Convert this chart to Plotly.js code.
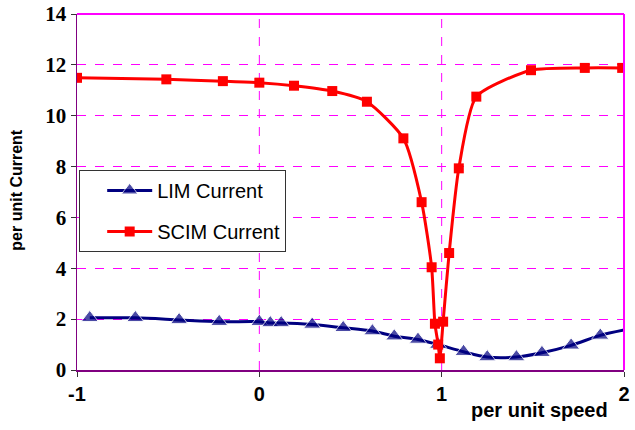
<!DOCTYPE html>
<html>
<head>
<meta charset="utf-8">
<script src="https://cdn.plot.ly/plotly-3.0.1.min.js"></script>
<style>html,body{margin:0;padding:0;background:#fff;}#chart{width:635px;height:430px;}</style>
</head>
<body>
<div id="chart"></div>
<script>
// LIM Current series
var limSpeed = [-0.93, -0.68, -0.44, -0.22, 0.0, 0.06, 0.12, 0.29, 0.46, 0.62, 0.74, 0.87, 0.98, 1.12, 1.25, 1.41, 1.55, 1.71, 1.87, 2.0];
var limCurrent = [2.05, 2.05, 1.97, 1.9, 1.9, 1.85, 1.85, 1.79, 1.66, 1.53, 1.33, 1.2, 1.0, 0.72, 0.51, 0.51, 0.68, 0.97, 1.36, 1.57];
var limMarkerSize = [15, 15, 15, 15, 15, 15, 15, 15, 15, 15, 15, 15, 15, 15, 15, 15, 15, 15, 15, 0];

// SCIM Current series
var scimSpeed = [-1.0, -0.51, -0.2, 0.0, 0.19, 0.4, 0.59, 0.79, 0.89, 0.945, 0.963, 0.981, 0.99, 1.008, 1.041, 1.094, 1.19, 1.49, 1.785, 1.99];
var scimCurrent = [11.49, 11.43, 11.36, 11.3, 11.18, 10.97, 10.55, 9.11, 6.6, 4.04, 1.82, 1.0, 0.46, 1.9, 4.6, 7.93, 10.75, 11.79, 11.88, 11.88];

var xTicks = [-1, 0, 1, 2];
var xTickText = ['-1', '0', '1', '2'];
var xGrid = [0, 1];
var yTicks = [0, 2, 4, 6, 8, 10, 12, 14];

var traces = [
  {
    x: limSpeed, y: limCurrent, name: 'LIM Current', type: 'scatter', mode: 'lines+markers',
    line: {color: '#000080', width: 3, shape: 'spline', smoothing: 0.8},
    marker: {symbol: 'triangle-up', size: limMarkerSize, color: '#000080'},
    legendgroup: 'a'
  },
  {
    x: scimSpeed, y: scimCurrent, name: 'SCIM Current', type: 'scatter', mode: 'lines+markers',
    line: {color: '#FF0000', width: 3, shape: 'spline', smoothing: 0.6},
    marker: {symbol: 'square', size: 10, color: '#FF0000'},
    legendgroup: 'b'
  }
];

var shapes = xGrid.map(function (v) {
  return {type: 'line', xref: 'x', yref: 'paper', x0: v, x1: v, y0: 0, y1: 1, layer: 'below',
          line: {color: '#FF00FF', width: 1, dash: 'dash'}};
});
shapes.push({type: 'line', xref: 'paper', yref: 'paper', x0: 0, x1: 1, y0: 1, y1: 1, line: {color: '#FF00FF', width: 2}});
shapes.push({type: 'line', xref: 'paper', yref: 'paper', x0: 1, x1: 1, y0: 0, y1: 1, line: {color: '#FF00FF', width: 2}});

var layout = {
  width: 635, height: 430,
  margin: {l: 77, r: 11, t: 14, b: 60},
  paper_bgcolor: '#fff', plot_bgcolor: '#fff',
  showlegend: true,
  legend: {
    x: 0.004, y: 0.562, xanchor: 'left', yanchor: 'top',
    bgcolor: '#fff', bordercolor: '#333', borderwidth: 1,
    font: {family: 'Liberation Sans, Arial, sans-serif', size: 20, color: '#000'},
    traceorder: 'grouped', tracegroupgap: 12, itemwidth: 45, indentation: 22,
    entrywidth: 205, entrywidthmode: 'pixels'
  },
  xaxis: {
    range: [-1, 2], tickvals: xTicks, ticktext: xTickText,
    showgrid: false,
    zeroline: false, showline: true, linecolor: '#800080', linewidth: 1.5,
    ticks: 'outside', ticklen: 5, tickcolor: '#333',
    tickfont: {family: 'Liberation Sans, Arial, sans-serif', size: 20, color: '#000', weight: 'bold'}
  },
  yaxis: {
    range: [0, 14], tickvals: yTicks,
    showgrid: true, gridcolor: '#FF00FF', griddash: 'dash', gridwidth: 1,
    zeroline: false, showline: true, linecolor: '#800080', linewidth: 1.5,
    ticks: 'outside', ticklen: 5, tickcolor: '#333',
    tickfont: {family: 'Liberation Serif, Times New Roman, serif', size: 21, color: '#000', weight: 'bold'}
  },
  shapes: shapes,
  annotations: [
    {text: '<b>per unit speed</b>', xref: 'paper', yref: 'paper', x: 0.846, y: -0.112,
     xanchor: 'center', yanchor: 'middle', showarrow: false,
     font: {family: 'Liberation Sans, Arial, sans-serif', size: 20, color: '#000'}},
    {text: '<b>per unit Current</b>', xref: 'paper', yref: 'paper', x: -0.11, y: 0.506,
     xanchor: 'center', yanchor: 'middle', showarrow: false, textangle: -90,
     font: {family: 'Liberation Sans, Arial, sans-serif', size: 16, color: '#000'}}
  ]
};

Plotly.newPlot('chart', traces, layout, {displayModeBar: false, staticPlot: true});
</script>
</body>
</html>
